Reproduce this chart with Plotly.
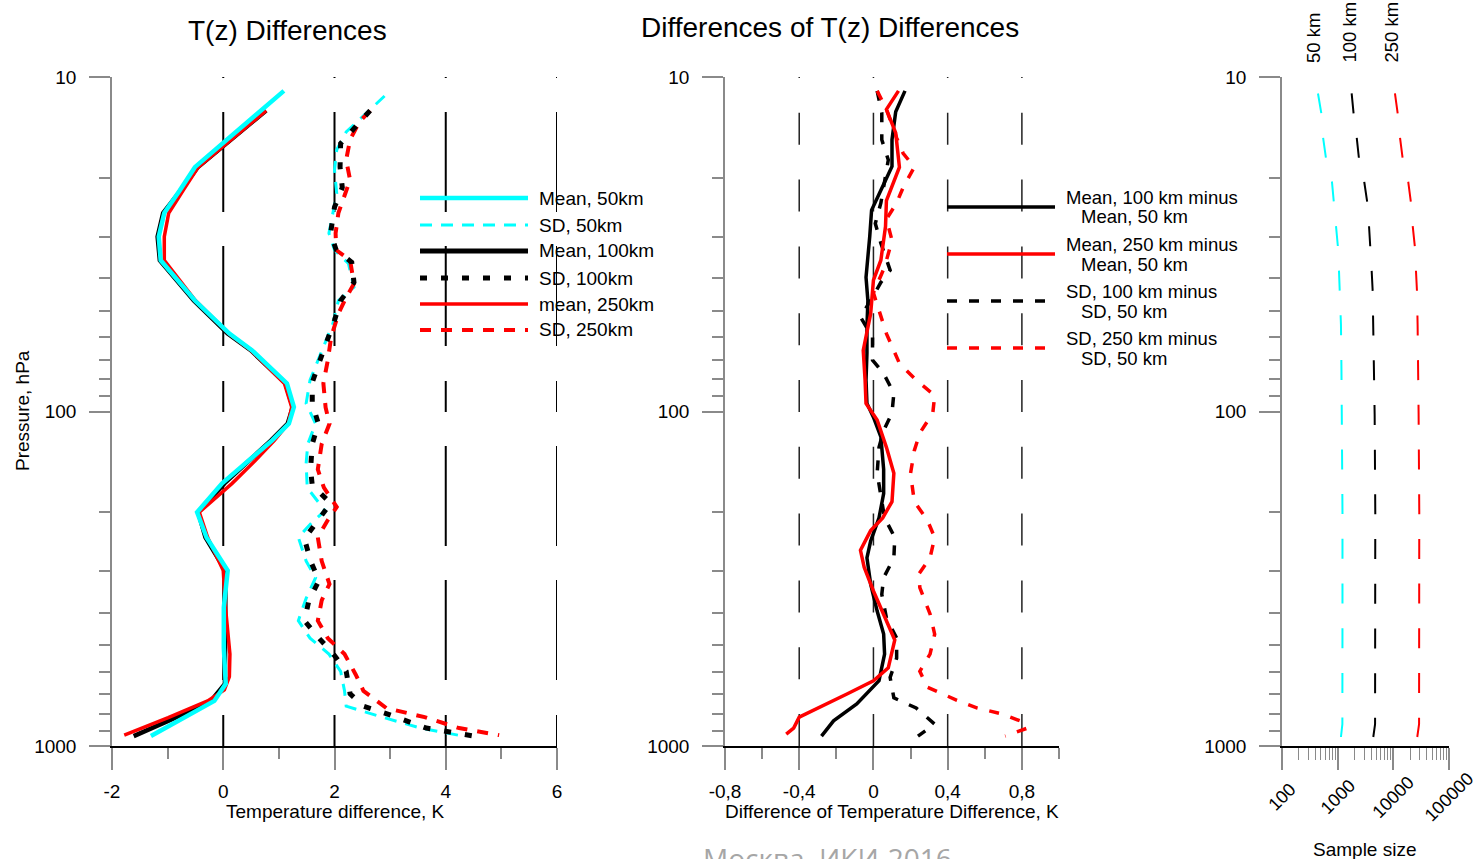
import math
import plotly.graph_objects as go

W, H = 1477, 859
FONT = "Liberation Sans, Arial, sans-serif"
CYAN, BLACK, RED, GRAY = "#00FFFF", "#000000", "#FF0000", "#8a8a8a"

# ---------------- data: left panel (T(z) differences, K) ----------------
mean50_p = [11.0, 18.6, 21.8, 25.5, 30, 35.3, 46.6, 58.5, 65.7, 82.4, 97, 108.6, 122, 140, 164, 200, 238, 299, 385, 508, 652, 733, 823, 934]
mean50_t = [1.09, -0.51, -0.78, -1.06, -1.16, -1.125, -0.51, 0.11, 0.52, 1.145, 1.27, 1.18, 0.88, 0.46, -0.02, -0.47, -0.30, 0.08, 0.01, 0.01, 0.045, -0.16, -0.71, -1.30]

mean100_p = [12.6, 18.6, 21.8, 25.5, 30, 35.3, 46.6, 58.5, 65.7, 82.4, 97, 108.6, 122, 140, 164, 200, 238, 299, 385, 508, 652, 733, 823, 934]
mean100_t = [0.77, -0.46, -0.76, -1.08, -1.18, -1.14, -0.53, 0.08, 0.50, 1.12, 1.25, 1.16, 0.86, 0.47, 0.02, -0.45, -0.32, 0.04, 0.04, 0.05, 0.03, -0.22, -0.86, -1.61]

mean250_p = [12.6, 18.6, 21.8, 25.5, 30, 35.3, 46.6, 58.5, 65.7, 82.4, 97, 108.6, 122, 140, 164, 200, 238, 299, 385, 450, 531, 620, 680, 733, 823, 928]
mean250_t = [0.77, -0.45, -0.72, -0.98, -1.06, -1.06, -0.50, 0.10, 0.50, 1.10, 1.23, 1.17, 0.92, 0.58, 0.16, -0.43, -0.28, 0.00, 0.04, 0.08, 0.12, 0.11, 0.02, -0.28, -0.99, -1.78]

sd50_p = [11.4, 14.6, 16.5, 19.0, 22.3, 25.5, 29.3, 32.9, 36.1, 42.5, 46.6, 54.6, 62.6, 70.2, 80.6, 94.6, 108.8, 125, 143, 169, 198, 215, 238, 280, 314, 362, 422, 476, 531, 598, 684, 760, 820, 884, 934]
sd50_t = [2.90, 2.21, 2.04, 2.00, 2.04, 1.97, 1.90, 2.00, 2.25, 2.35, 2.07, 1.97, 1.83, 1.70, 1.56, 1.49, 1.66, 1.52, 1.49, 1.51, 1.83, 1.59, 1.35, 1.49, 1.66, 1.49, 1.35, 1.56, 1.90, 2.11, 2.18, 2.21, 2.86, 3.55, 4.31]

sd100_p = [12.6, 14.1, 15.8, 18.6, 21.4, 24.5, 29.3, 32.9, 35.8, 41.1, 46.6, 53.4, 61.2, 70.2, 81.9, 94.6, 108.8, 125, 149, 166, 188, 211, 240, 280, 320, 367, 422, 476, 528, 598, 698, 760, 800, 884, 934]
sd100_t = [2.64, 2.38, 2.11, 2.10, 2.14, 2.00, 1.93, 2.03, 2.31, 2.35, 2.11, 2.00, 1.88, 1.74, 1.60, 1.60, 1.71, 1.60, 1.57, 1.60, 1.93, 1.72, 1.46, 1.57, 1.72, 1.54, 1.46, 1.72, 1.97, 2.21, 2.28, 2.52, 2.93, 3.65, 4.51]

sd250_p = [12.6, 13.6, 15.4, 17.7, 20.3, 22.9, 25.5, 29.3, 32.9, 35.3, 38.6, 41.5, 45.6, 51, 59.9, 70.2, 82.4, 97.3, 108.8, 125, 149, 169, 193, 211, 238, 280, 328, 367, 422, 476, 531, 611, 684, 770, 820, 884, 928]
sd250_t = [2.64, 2.45, 2.28, 2.21, 2.28, 2.17, 2.07, 2.02, 2.03, 2.28, 2.31, 2.35, 2.21, 2.07, 1.94, 1.88, 1.80, 1.84, 1.91, 1.77, 1.70, 1.81, 2.04, 1.88, 1.70, 1.77, 1.91, 1.77, 1.70, 1.88, 2.18, 2.38, 2.52, 2.93, 3.62, 4.24, 4.96]

# ---------------- data: middle panel (differences of differences, K) ----------------
dmean100_p = [11.0, 12.7, 15.4, 18.5, 21.8, 25, 30, 35.3, 39.7, 46.6, 55.8, 67, 80.6, 94.6, 104, 119, 137, 149, 176, 208, 244, 274, 328, 395, 463, 531, 638, 749, 841, 934]
dmean100_v = [0.17, 0.12, 0.10, 0.10, 0.04, -0.01, -0.02, -0.03, -0.04, -0.03, -0.035, -0.035, -0.04, -0.035, 0.0, 0.04, 0.05, 0.055, 0.055, 0.03, -0.015, -0.035, -0.015, 0.02, 0.055, 0.06, 0.03, -0.09, -0.215, -0.28]

dmean250_p = [11.0, 12.5, 14.7, 16.5, 18.6, 23.4, 28, 35.3, 40.5, 51, 65.6, 80.6, 94.6, 106, 128, 153, 186, 208, 227, 260, 292, 344, 422, 482, 584, 638, 698, 770, 820, 884, 922]
dmean250_v = [0.135, 0.07, 0.12, 0.13, 0.14, 0.07, 0.065, 0.04, 0.0, -0.015, -0.055, -0.045, -0.04, 0.02, 0.07, 0.11, 0.10, 0.05, -0.015, -0.07, -0.05, 0.0, 0.07, 0.115, 0.08, 0.0, -0.14, -0.30, -0.40, -0.43, -0.47]

dsd100_p = [11.0, 12.8, 15.4, 17.7, 23.8, 27.4, 31.4, 37.8, 41.1, 45.6, 52.2, 59.9, 70.2, 77, 88.2, 101, 114, 128, 153, 178, 208, 238, 274, 314, 352, 414, 476, 546, 624, 718, 770, 860, 934]
dsd100_v = [0.02, 0.045, 0.045, 0.08, 0.04, 0.01, 0.04, 0.09, 0.04, -0.005, -0.07, -0.005, -0.005, 0.055, 0.11, 0.10, 0.055, 0.03, 0.02, 0.04, 0.06, 0.115, 0.11, 0.055, 0.045, 0.07, 0.125, 0.125, 0.09, 0.11, 0.23, 0.33, 0.24]

dsd250_p = [11.0, 12.5, 15.2, 16.9, 18.6, 21.4, 23.8, 26.6, 30.8, 37, 44.2, 58.5, 71.8, 80.6, 89.5, 101, 116, 131, 153, 186, 211, 238, 274, 306, 336, 403, 463, 531, 598, 667, 730, 770, 800, 841, 884, 934]
dsd250_v = [0.02, 0.07, 0.125, 0.16, 0.22, 0.16, 0.125, 0.07, 0.10, 0.06, 0.0, 0.07, 0.14, 0.23, 0.33, 0.32, 0.25, 0.22, 0.20, 0.22, 0.29, 0.33, 0.305, 0.245, 0.25, 0.305, 0.33, 0.305, 0.25, 0.29, 0.45, 0.56, 0.685, 0.79, 0.83, 0.71]

# ---------------- data: right panel (sample size) ----------------
n_p = [11.2, 13.2, 15.1, 17.5, 20.6, 23.7, 27.7, 32.3, 37.8, 43.5, 55, 75, 102, 200, 400, 700, 860, 940]
n50 = [443, 523, 545, 617, 790, 859, 933, 1012, 1055, 1100, 1146, 1170, 1195, 1220, 1220, 1220, 1215, 1146]
n100 = [1783, 1963, 2193, 2410, 3005, 3400, 3650, 3910, 4075, 4250, 4365, 4490, 4617, 4740, 4740, 4740, 4700, 4365]
n250 = [10690, 12250, 13130, 14690, 18530, 20700, 22180, 24430, 25470, 26550, 27300, 28060, 28450, 29240, 29240, 29240, 29000, 26900]

# ---------------- labels ----------------
p_ticks = [10, 100, 1000]
p_minor = [20, 30, 40, 50, 60, 70, 80, 90, 200, 300, 400, 500, 600, 700, 800, 900]
t_ticks = [-2, 0, 2, 4, 6]
t_ticktext = ["-2", "0", "2", "4", "6"]
t_minor = [-1, 1, 3, 5]
t_grid = [0, 2, 4, 6]
d_ticks = [-0.8, -0.4, 0, 0.4, 0.8]
d_ticktext = ["-0,8", "-0,4", "0", "0,4", "0,8"]
d_minor = [-0.6, -0.2, 0.2, 0.6, 1.0]
d_grid = [-0.4, 0, 0.4, 0.8]
n_ticks = [100, 1000, 10000, 100000]
n_minor = [m * d for d in (100, 1000, 10000) for m in range(2, 10)]

left_legend = ["Mean, 50km", "SD, 50km", "Mean, 100km", "SD, 100km", "mean, 250km", "SD, 250km"]
mid_legend = [("Mean, 100 km minus", "Mean, 50 km"), ("Mean, 250 km minus", "Mean, 50 km"),
              ("SD, 100 km minus", "SD, 50 km"), ("SD, 250 km minus", "SD, 50 km")]
right_labels = ["50 km", "100 km", "250 km"]


def px(x):
    return x / W


def py(y):
    return 1 - y / H


TOP, BOT = 77, 746
ydom = [py(BOT), py(TOP)]

fig = go.Figure()


def add(x, y, color, width, dash, xa, ya):
    fig.add_trace(go.Scatter(x=x, y=y, mode="lines", xaxis=xa, yaxis=ya, showlegend=False,
                             hoverinfo="skip", line=dict(color=color, width=width, dash=dash)))


# left panel
add(sd50_t, sd50_p, CYAN, 3, "12px,9px", "x", "y")
add(sd250_t, sd250_p, RED, 4, "11px,10px", "x", "y")
add(sd100_t, sd100_p, BLACK, 5, "7px,14px", "x", "y")
add(mean100_t, mean100_p, BLACK, 4.5, "solid", "x", "y")
add(mean250_t, mean250_p, RED, 3.5, "solid", "x", "y")
add(mean50_t, mean50_p, CYAN, 4.5, "solid", "x", "y")

# middle panel
add(dsd100_v, dsd100_p, BLACK, 3.5, "10px,12px", "x2", "y2")
add(dsd250_v, dsd250_p, RED, 3.5, "10px,12px", "x2", "y2")
add(dmean100_v, dmean100_p, BLACK, 3.5, "solid", "x2", "y2")
add(dmean250_v, dmean250_p, RED, 3.5, "solid", "x2", "y2")

# right panel
add(n50, n_p, CYAN, 2, "20px,24.7px", "x3", "y3")
add(n100, n_p, BLACK, 2, "20px,24.7px", "x3", "y3")
add(n250, n_p, RED, 2, "20px,24.7px", "x3", "y3")

tickfont = dict(family=FONT, size=19, color="black")


def yaxis(anchor):
    return dict(type="log", range=[3, 1], domain=ydom, anchor=anchor,
                showline=True, linecolor=GRAY, linewidth=1.5, showgrid=False, zeroline=False,
                ticks="outside", ticklen=21, tickwidth=1.5, tickcolor=GRAY,
                tickmode="array", tickvals=p_ticks, ticktext=[str(v) for v in p_ticks],
                minor=dict(ticks="outside", ticklen=11, tickwidth=1.5, tickcolor=GRAY, tickvals=p_minor),
                tickfont=tickfont, ticklabelstandoff=9, fixedrange=True)


fig.update_layout(
    width=W, height=H, margin=dict(l=0, r=0, t=0, b=0, pad=0, autoexpand=False),
    paper_bgcolor="white", plot_bgcolor="white", showlegend=False,
    xaxis=dict(range=[-2, 6], domain=[px(112), px(557)], anchor="y",
               showline=True, linecolor="black", linewidth=1.5, showgrid=False, zeroline=False,
               ticks="outside", ticklen=22, tickwidth=1.5, tickcolor=GRAY,
               tickmode="array", tickvals=t_ticks, ticktext=t_ticktext,
               minor=dict(ticks="outside", ticklen=11, tickwidth=1.5, tickcolor=GRAY, tickvals=t_minor),
               tickfont=tickfont, ticklabelstandoff=5),
    yaxis=yaxis("x"),
    xaxis2=dict(range=[-0.8, 1.0], domain=[px(725), px(1059)], anchor="y2",
                showline=True, linecolor="black", linewidth=1.5, showgrid=False, zeroline=False,
                ticks="outside", ticklen=22, tickwidth=1.5, tickcolor=GRAY,
                tickmode="array", tickvals=d_ticks, ticktext=d_ticktext,
                minor=dict(ticks="outside", ticklen=11, tickwidth=1.5, tickcolor=GRAY, tickvals=d_minor),
                tickfont=tickfont, ticklabelstandoff=5),
    yaxis2=yaxis("x2"),
    xaxis3=dict(type="log", range=[2, 5], domain=[px(1282), px(1449)], anchor="y3",
                showline=True, linecolor="black", linewidth=1.5, showgrid=False, zeroline=False,
                ticks="outside", ticklen=22, tickwidth=1.5, tickcolor=GRAY,
                tickmode="array", tickvals=n_ticks, showticklabels=False,
                minor=dict(ticks="outside", ticklen=12, tickwidth=1.2, tickcolor=GRAY, tickvals=n_minor)),
    yaxis3=yaxis("x3"),
)

shapes = []
# dashed vertical grid lines (drawn from bottom to top)
for g in t_grid:
    shapes.append(dict(type="line", xref="x", yref="y domain", x0=g, x1=g, y0=0, y1=1,
                       line=dict(color="black", width=2, dash="31px,35px,100px,34px,100px,34px"), layer="below"))
for g in d_grid:
    shapes.append(dict(type="line", xref="x2", yref="y2 domain", x0=g, x1=g, y0=0, y1=1,
                       line=dict(color="#222222", width=1.5, dash="32px,34.8px"), layer="below"))

# left legend
left_styles = [(CYAN, 4.5, "solid"), (CYAN, 3, "12px,9px"), (BLACK, 5, "solid"),
               (BLACK, 5, "7px,14px"), (RED, 3.5, "solid"), (RED, 4, "11px,10px")]
left_ys = [198, 225, 251, 278, 304, 330]
annotations = []
for (c, w, d), yy, lab in zip(left_styles, left_ys, left_legend):
    shapes.append(dict(type="line", xref="paper", yref="paper", x0=px(420), x1=px(528), y0=py(yy), y1=py(yy),
                       line=dict(color=c, width=w, dash=d)))
    annotations.append(dict(xref="paper", yref="paper", x=px(537), y=py(yy), text=lab, showarrow=False,
                            xanchor="left", yanchor="middle", font=dict(family=FONT, size=19, color="black")))

# middle legend
mid_styles = [(BLACK, 3.5, "solid"), (RED, 3.5, "solid"), (BLACK, 3.5, "10px,12px"), (RED, 3.5, "10px,12px")]
mid_ys = [207, 254, 301, 348]
for (c, w, d), yy, (l1, l2) in zip(mid_styles, mid_ys, mid_legend):
    shapes.append(dict(type="line", xref="paper", yref="paper", x0=px(947), x1=px(1055), y0=py(yy), y1=py(yy),
                       line=dict(color=c, width=w, dash=d)))
    annotations.append(dict(xref="paper", yref="paper", x=px(1064), y=py(yy - 10), text=l1, showarrow=False,
                            xanchor="left", yanchor="middle", font=dict(family=FONT, size=18.5, color="black")))
    annotations.append(dict(xref="paper", yref="paper", x=px(1079), y=py(yy + 10), text=l2, showarrow=False,
                            xanchor="left", yanchor="middle", font=dict(family=FONT, size=18.5, color="black")))


# titles and axis titles
def txt(x, y, s, size=19, angle=0, color="black", family=FONT, xa="center", ya="middle"):
    annotations.append(dict(xref="paper", yref="paper", x=px(x), y=py(y), text=s, showarrow=False,
                            textangle=angle, xanchor=xa, yanchor=ya,
                            font=dict(family=family, size=size, color=color)))


txt(287, 30, "T(z) Differences", size=28)
txt(830, 28, "Differences of T(z) Differences", size=28)
txt(22, 411, "Pressure, hPa", size=19, angle=-90)
txt(335, 811, "Temperature difference, K", size=19)
txt(892, 811, "Difference of Temperature Difference, K", size=19)
txt(1365, 849, "Sample size", size=19)
for xx, lab in zip([1313, 1349, 1391], right_labels):
    txt(xx, 65, lab, size=18.5, angle=-90, ya="bottom")
txt(827, 837, "Москва, ИКИ-2016", size=28, color="#a6a6a6", family="Open Sans, Noto Sans, sans-serif", ya="top")

# rotated tick labels of the sample-size axis
for v in n_ticks:
    annotations.append(dict(xref="x3", yref="paper", x=math.log10(v), y=py(797), text=str(v), showarrow=False,
                            textangle=-45, xanchor="center", yanchor="middle",
                            font=dict(family=FONT, size=18, color="black")))

fig.update_layout(shapes=shapes, annotations=annotations)
fig.write_html("out.html")
